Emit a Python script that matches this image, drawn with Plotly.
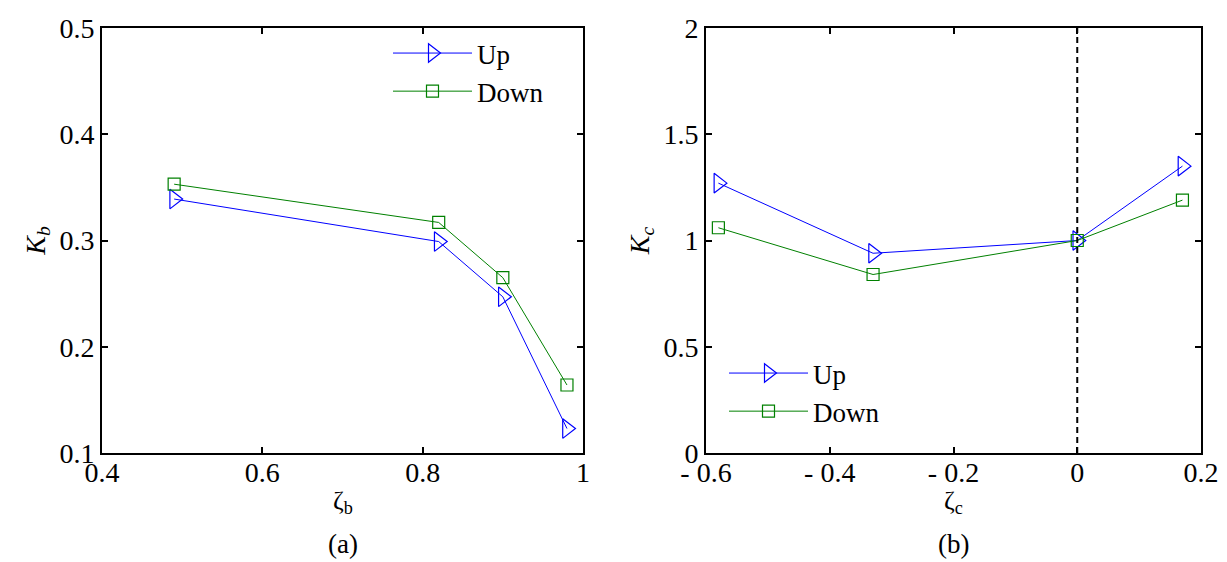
import plotly.graph_objects as go

# ---- data (panel a) ----
zeta_b = [0.49, 0.82, 0.90, 0.98]
kb_up = [0.339, 0.299, 0.247, 0.123]
kb_down = [0.353, 0.317, 0.265, 0.164]

# ---- data (panel b) ----
zeta_c = [-0.58, -0.33, 0.0, 0.17]
kc_up = [1.27, 0.94, 1.0, 1.35]
kc_down = [1.06, 0.84, 1.0, 1.19]

# ---- tick labels ----
xa_ticks = [0.4, 0.6, 0.8, 1.0]
xa_text = ["0.4", "0.6", "0.8", "1"]
ya_ticks = [0.1, 0.2, 0.3, 0.4, 0.5]
ya_text = ["0.1", "0.2", "0.3", "0.4", "0.5"]
xb_ticks = [-0.6, -0.4, -0.2, 0.0, 0.2]
xb_text = ["- 0.6", "- 0.4", "- 0.2", "0", "0.2"]
yb_ticks = [0, 0.5, 1, 1.5, 2]
yb_text = ["0", "0.5", "1", "1.5", "2"]

W, H = 1227, 562
BLUE = "#0000ff"
GREEN = "#008000"
FONT = "Liberation Serif"

def px_x(p):
    return p / W

def px_y(p):
    return 1 - p / H

fig = go.Figure()

up_style = dict(mode="lines+markers", line=dict(color=BLUE, width=1),
                marker=dict(symbol="triangle-right-open", size=17, color=BLUE, line=dict(width=1.2)))
down_style = dict(mode="lines+markers", line=dict(color=GREEN, width=1),
                  marker=dict(symbol="square-open", size=12, color=GREEN, line=dict(width=1.2)))

fig.add_trace(go.Scatter(x=zeta_b, y=kb_up, name="Up", xaxis="x", yaxis="y", legend="legend", **up_style))
fig.add_trace(go.Scatter(x=zeta_b, y=kb_down, name="Down", xaxis="x", yaxis="y", legend="legend", **down_style))
fig.add_trace(go.Scatter(x=zeta_c, y=kc_up, name="Up", xaxis="x2", yaxis="y2", legend="legend2", **up_style))
fig.add_trace(go.Scatter(x=zeta_c, y=kc_down, name="Down", xaxis="x2", yaxis="y2", legend="legend2", **down_style))

fig.add_shape(type="line", xref="x2", yref="y2", x0=0, x1=0, y0=0, y1=2,
              line=dict(color="black", width=2, dash="6px,4px"))

axis_common = dict(showline=True, linecolor="black", linewidth=2, mirror="ticks",
                   ticks="inside", ticklen=6, tickwidth=1.5, tickcolor="black",
                   showgrid=False, zeroline=False,
                   tickfont=dict(family=FONT, size=28, color="black"), automargin=False)

fig.update_layout(
    width=W, height=H,
    paper_bgcolor="white", plot_bgcolor="white",
    margin=dict(l=0, r=0, t=0, b=0),
    font=dict(family=FONT, color="black"),
    xaxis=dict(domain=[px_x(94), px_x(575)], range=[0.4, 1.0], anchor="y",
               tickmode="array", tickvals=xa_ticks, ticktext=xa_text,
               ticklabelstandoff=-7, **axis_common),
    yaxis=dict(domain=[px_y(445), px_y(20)], range=[0.1, 0.5], anchor="x",
               tickmode="array", tickvals=ya_ticks, ticktext=ya_text,
               title=dict(text="<i>K<sub>b</sub></i>", font=dict(family=FONT, size=28), standoff=6),
               **axis_common),
    xaxis2=dict(domain=[px_x(698), px_x(1193)], range=[-0.6, 0.2], anchor="y2",
                tickmode="array", tickvals=xb_ticks, ticktext=xb_text,
                ticklabelstandoff=-7, **axis_common),
    yaxis2=dict(domain=[px_y(445), px_y(20)], range=[0, 2], anchor="x2",
                tickmode="array", tickvals=yb_ticks, ticktext=yb_text,
                title=dict(text="<i>K<sub>c</sub></i>", font=dict(family=FONT, size=28), standoff=6),
                **axis_common),
    legend=dict(x=px_x(380), y=px_y(21), xanchor="left", yanchor="top",
                bgcolor="rgba(0,0,0,0)", font=dict(family=FONT, size=27),
                itemwidth=79, tracegroupgap=0),
    legend2=dict(x=px_x(716), y=px_y(341), xanchor="left", yanchor="top",
                 bgcolor="rgba(0,0,0,0)", font=dict(family=FONT, size=27),
                 itemwidth=79, tracegroupgap=0),
    annotations=[
        dict(text="ζ<sub>b</sub>", x=px_x(335), y=px_y(494), xref="paper", yref="paper",
             xanchor="center", yanchor="middle",
             showarrow=False, font=dict(family=FONT, size=26)),
        dict(text="ζ<sub>c</sub>", x=px_x(945), y=px_y(494), xref="paper", yref="paper",
             xanchor="center", yanchor="middle",
             showarrow=False, font=dict(family=FONT, size=26)),
        dict(text="(a)", x=px_x(335), y=px_y(536), xref="paper", yref="paper",
             xanchor="center", yanchor="middle",
             showarrow=False, font=dict(family=FONT, size=27)),
        dict(text="(b)", x=px_x(945), y=px_y(536), xref="paper", yref="paper",
             xanchor="center", yanchor="middle",
             showarrow=False, font=dict(family=FONT, size=27)),
    ],
)

fig.write_html("out.html")
